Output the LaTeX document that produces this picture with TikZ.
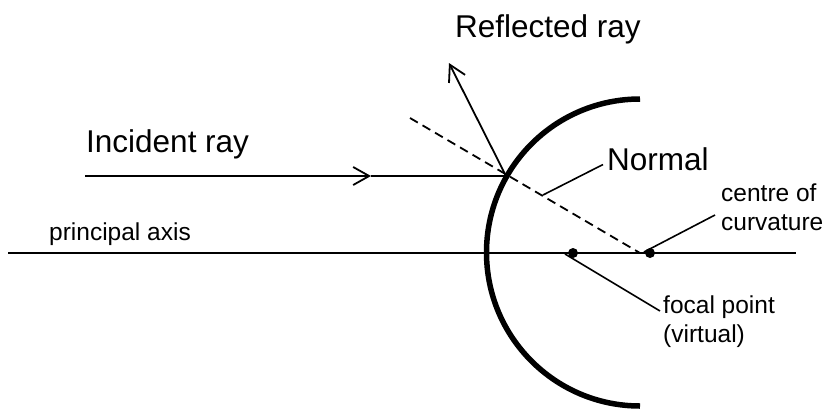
\documentclass[tikz,border=0pt]{standalone}
\usepackage{fontspec}
\setmainfont{Liberation Sans}
\usetikzlibrary{arrows.meta}
\begin{document}
\begin{tikzpicture}[x=1pt,y=-1pt,
  bigtxt/.style={font=\fontsize{31.5}{36}\selectfont, inner sep=0pt, anchor=base west},
  smalltxt/.style={font=\fontsize{24.5}{28.5}\selectfont, inner sep=0pt, anchor=base west, align=left},
  ray/.style={line width=1.8pt},
  leader/.style={line width=1.6pt},
  barb/.style={-{Straight Barb[length=16pt,width=18pt,line width=1.8pt]}},
  dot/.style={circle, fill=black, inner sep=0pt, minimum size=10pt}
]
\useasboundingbox (0,0) rectangle (833,408);
% coordinates
\coordinate (axL) at (8,253);
\coordinate (axR) at (796,253);
\coordinate (hit) at (506,176);
\coordinate (inS) at (85,176);
\coordinate (inM) at (371,176);
\coordinate (refT) at (449,63);
\coordinate (nS) at (410,118);
\coordinate (nE) at (640,253);
\coordinate (mTop) at (640,99);
\coordinate (nl) at (543,195);
\coordinate (cl) at (644,252);
\coordinate (fl) at (565,254);
\coordinate (clE) at (715,215);
\coordinate (flE) at (660,311);
% axis
\draw[line width=1.3pt] (axL) -- (axR);
% mirror
\draw[line width=5.5pt] (mTop) arc[start angle=90, end angle=270, radius=153.5pt];
% incident ray
\draw[ray, barb] (inS) -- (inM);
\draw[ray] (inM) -- (hit);
% reflected ray
\draw[ray, barb] (hit) -- (refT);
% normal
\draw[ray, dash pattern=on 9pt off 5.5pt] (nS) -- (nE);
% points
\node[dot] (F) at (573,253) {};
\node[dot] (C) at (650,253) {};
% labels
\node[bigtxt] (lref) at (455,37) {Reflected ray};
\node[bigtxt] (linc) at (86,152) {Incident ray};
\node[bigtxt] (lnorm) at (607,170) {Normal};
\node[smalltxt] (lax) at (49,240) {principal axis};
\node[smalltxt, anchor=north west] (lcen) at (721,184) {centre of\\curvature};
\node[smalltxt, anchor=north west] (lfoc) at (663,296) {focal point\\(virtual)};
% leaders
\draw[leader] (nl) -- ([xshift=-4pt,yshift=6pt]lnorm.south west);
\draw[leader] (cl) -- (clE);
\draw[leader] (fl) -- (flE);
\end{tikzpicture}
\end{document}
